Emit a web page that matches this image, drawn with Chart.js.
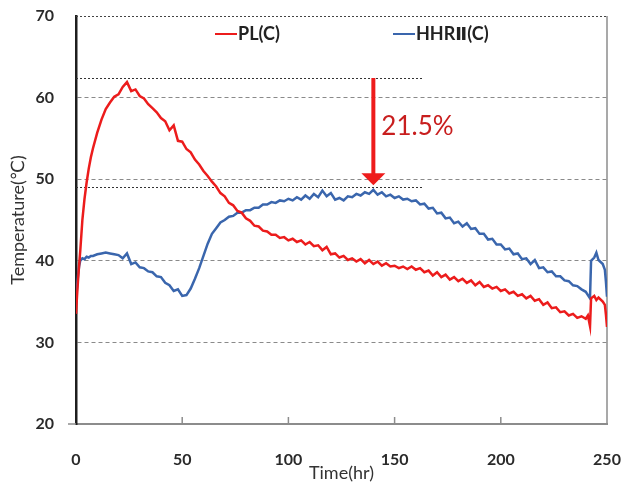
<!DOCTYPE html>
<html>
<head>
<meta charset="utf-8">
<script src="https://cdn.jsdelivr.net/npm/chart.js@4.4.1/dist/chart.umd.min.js"></script>
<style>
  html, body { margin: 0; padding: 0; background: #fff; }
  #wrap { width: 622px; height: 484px; }
</style>
</head>
<body>
<div id="wrap"><canvas id="tempChart" width="622" height="484"></canvas></div>
<script>
(function () {
    'use strict';

    // time stamps (hr)
    var hours = [
        0, 0.5, 1, 1.5, 2, 3, 4, 5, 6, 7, 8,
        10, 12, 14, 16, 18, 20, 22, 24, 26, 28, 30, 32, 34, 36, 38, 40, 42, 44, 46, 48,
        50, 52, 54, 56, 58, 60, 62, 64, 66, 68, 70, 72, 74, 76, 78, 80, 82, 84, 86, 88,
        90, 92, 94, 96, 98, 100, 102, 104, 106, 108, 110, 112, 114, 116, 118, 120, 122, 124, 126, 128,
        130, 132, 134, 136, 138, 140, 142, 144, 146, 148, 150, 152, 154, 156, 158, 160, 162, 164, 166, 168,
        170, 172, 174, 176, 178, 180, 182, 184, 186, 188, 190, 192, 194, 196, 198, 200, 202, 204, 206, 208,
        210, 212, 214, 216, 218, 220, 222, 224, 226, 228, 230, 232, 234, 236, 238, 240,
        241, 242, 242.5, 244, 245, 246, 248, 249, 249.5, 250
    ];

    // PL(C) temperature (°C)
    var plTemp = [
        33.5, 35.8, 37.8, 39.6, 41.2, 45.0, 47.6, 49.6, 51.3, 52.7, 53.8,
        55.7, 57.3, 58.6, 59.4, 60.1, 60.4, 61.3, 61.9, 60.8, 61.0, 60.2, 59.9, 59.2, 58.7, 58.2, 57.5, 57.1, 56.0, 56.6, 54.7,
        54.6, 53.7, 53.3, 52.4, 51.8, 51.0, 50.4, 49.7, 49.1, 48.3, 47.9, 47.1, 46.8, 46.1, 45.9, 45.2, 44.9, 44.3, 44.2, 43.7,
        43.6, 43.2, 43.2, 42.8, 42.9, 42.5, 42.7, 42.3, 42.5, 42.0, 42.3, 41.8, 41.9, 41.3, 41.7, 40.8, 40.9, 40.4, 40.6, 40.1,
        40.3, 39.9, 40.2, 39.7, 40.1, 39.6, 39.9, 39.4, 39.7, 39.3, 39.4, 39.1, 39.3, 39.0, 39.3, 38.9, 39.1, 38.6, 38.8, 38.2,
        38.6, 38.0, 38.3, 37.7, 38.0, 37.5, 37.8, 37.3, 37.6, 37.0, 37.4, 36.8, 37.0, 36.6, 36.8, 36.3, 36.5, 36.0, 36.2, 35.7,
        35.9, 35.4, 35.7, 35.1, 35.3, 34.6, 34.9, 34.2, 34.3, 33.7, 33.8, 33.3, 33.5, 33.0, 33.2, 32.9,
        33.3, 32.0, 35.4, 35.7, 35.2, 35.5, 35.0, 34.6, 33.4, 31.9
    ];

    // HHRⅡ(C) temperature (°C)
    var hhrTemp = [
        35.0, 36.8, 38.3, 39.4, 40.0, 40.3, 40.2, 40.5, 40.4, 40.6, 40.6,
        40.8, 40.9, 41.0, 40.9, 40.8, 40.7, 40.3, 40.9, 39.6, 39.8, 39.2, 39.1, 38.7, 38.6, 38.1, 38.0, 37.3, 37.0, 36.3, 36.5,
        35.7, 35.8, 36.6, 37.8, 39.1, 40.6, 42.1, 43.3, 44.0, 44.7, 45.0, 45.4, 45.5, 45.9, 45.9, 46.2, 46.2, 46.5, 46.5, 46.9,
        46.9, 47.2, 47.1, 47.4, 47.3, 47.6, 47.4, 47.8, 47.5, 48.0, 47.6, 48.2, 47.8, 48.6, 47.9, 48.3, 47.5, 47.7, 47.4, 47.9,
        47.8, 48.2, 48.0, 48.4, 48.2, 48.7, 48.1, 48.4, 47.9, 48.1, 47.7, 47.9, 47.5, 47.6, 47.3, 47.4, 46.9, 47.0, 46.4, 46.5,
        45.8, 45.9, 45.2, 45.3, 44.6, 44.8, 44.2, 44.6, 43.9, 44.0, 43.3, 43.3, 42.6, 42.7, 42.0, 42.0, 41.4, 41.5, 40.8, 40.9,
        40.2, 40.3, 39.6, 40.1, 39.1, 39.2, 38.6, 38.7, 38.1, 38.1, 37.6, 37.5, 37.0, 36.9, 36.5, 36.2,
        35.8, 35.4, 40.0, 40.4, 41.0, 40.1, 39.6, 38.9, 37.4, 35.6
    ];

    var xTicks = [0, 50, 100, 150, 200, 250];
    var yTicks = [20, 30, 40, 50, 60, 70];

    // peak-reduction marker
    var peakPL = 62.4;
    var peakHHR = 49.0;
    var markerHour = 140;
    var guideEndHour = 163;
    var markerText = '21.5%';

    function pairs(vals) {
        return hours.map(function (h, i) { return { x: h, y: vals[i] }; });
    }

    var FONT = 'Lato, "Open Sans", "DejaVu Sans", sans-serif';

    var decor = {
        id: 'decor',
        beforeDatasetsDraw: function (chart) {
            var ctx = chart.ctx;
            var a = chart.chartArea;
            var xs = chart.scales.x;
            var ys = chart.scales.y;
            ctx.save();
            // top border (dotted)
            ctx.strokeStyle = '#444';
            ctx.lineWidth = 1;
            ctx.setLineDash([2, 2]);
            ctx.beginPath();
            ctx.moveTo(a.left, ys.getPixelForValue(70) + 0.5);
            ctx.lineTo(a.right, ys.getPixelForValue(70) + 0.5);
            ctx.stroke();
            // guide lines for the two peaks
            ctx.strokeStyle = '#333';
            [peakPL, peakHHR].forEach(function (v) {
                var y = Math.round(ys.getPixelForValue(v)) + 0.5;
                ctx.beginPath();
                ctx.moveTo(a.left, y);
                ctx.lineTo(xs.getPixelForValue(guideEndHour), y);
                ctx.stroke();
            });
            ctx.setLineDash([]);
            // right border
            ctx.strokeStyle = '#8c8c8c';
            ctx.lineWidth = 1.5;
            ctx.beginPath();
            ctx.moveTo(a.right, a.top);
            ctx.lineTo(a.right, a.bottom);
            ctx.stroke();
            // inner tick marks on the time axis
            xTicks.forEach(function (t) {
                if (t === xTicks[0] || t === xTicks[xTicks.length - 1]) return;
                var x = xs.getPixelForValue(t);
                ctx.beginPath();
                ctx.moveTo(x, a.bottom);
                ctx.lineTo(x, a.bottom - 7);
                ctx.stroke();
            });
            // small stub of the time axis left of the y axis
            ctx.beginPath();
            ctx.moveTo(a.left - 8, a.bottom);
            ctx.lineTo(a.left, a.bottom);
            ctx.stroke();
            ctx.restore();
        },
        afterDatasetsDraw: function (chart) {
            var ctx = chart.ctx;
            var a = chart.chartArea;
            var xs = chart.scales.x;
            var ys = chart.scales.y;
            ctx.save();
            // arrow
            var ax = xs.getPixelForValue(markerHour);
            var yTop = ys.getPixelForValue(peakPL);
            var yTip = ys.getPixelForValue(peakHHR) - 2;
            ctx.strokeStyle = '#ee1c1c';
            ctx.fillStyle = '#ee1c1c';
            ctx.lineWidth = 4;
            ctx.beginPath();
            ctx.moveTo(ax, yTop);
            ctx.lineTo(ax, yTip - 10);
            ctx.stroke();
            ctx.beginPath();
            ctx.moveTo(ax - 12, yTip - 12);
            ctx.lineTo(ax + 12, yTip - 12);
            ctx.lineTo(ax, yTip);
            ctx.closePath();
            ctx.fill();
            // label
            ctx.fillStyle = '#c81e1e';
            ctx.font = '26px ' + FONT;
            ctx.textAlign = 'left';
            ctx.textBaseline = 'middle';
            ctx.fillText(markerText, ax + 8, (yTop + yTip) / 2 - 5);

            // legend
            var legendX = [215, 393];
            var ly = a.top + 18;
            ctx.font = 'bold 18px ' + FONT;
            chart.data.datasets.forEach(function (ds, i) {
                var lx = legendX[i];
                ctx.strokeStyle = ds.borderColor;
                ctx.lineWidth = 2;
                ctx.beginPath();
                ctx.moveTo(lx, ly);
                ctx.lineTo(lx + 22, ly);
                ctx.stroke();
                ctx.fillStyle = '#222';
                ctx.fillText(ds.label, lx + 23, ly);
            });
            ctx.restore();
        }
    };

    var canvas = document.getElementById('tempChart');
    var ctx = canvas.getContext('2d');

    new Chart(ctx, {
        type: 'line',
        data: {
            datasets: [
                {
                    label: 'PL(C)',
                    data: pairs(plTemp),
                    borderColor: '#ec1c1c',
                    borderWidth: 2.5,
                    pointRadius: 0,
                    tension: 0
                },
                {
                    label: 'HHRⅡ(C)',
                    data: pairs(hhrTemp),
                    borderColor: '#3a66ad',
                    borderWidth: 2.5,
                    pointRadius: 0,
                    tension: 0
                }
            ]
        },
        options: {
            responsive: false,
            animation: false,
            devicePixelRatio: 1,
            layout: { padding: { top: 16, right: 15, left: 0, bottom: 0 } },
            plugins: {
                legend: { display: false },
                tooltip: { enabled: false }
            },
            scales: {
                x: {
                    type: 'linear',
                    min: 0,
                    max: 250,
                    afterBuildTicks: function (s) {
                        s.ticks = xTicks.map(function (v) { return { value: v }; });
                    },
                    afterFit: function (s) {
                        s.height = 60;
                        s.paddingLeft = 0;
                        s.paddingRight = 0;
                    },
                    grid: { display: false, drawTicks: false },
                    border: { display: true, color: '#8c8c8c', width: 2 },
                    ticks: {
                        padding: 26,
                        color: '#2a2a2a',
                        font: { family: FONT, size: 16, weight: 'bold' },
                        maxRotation: 0
                    },
                    title: {
                        display: true,
                        text: 'Time(hr)',
                        color: '#333',
                        font: { family: FONT, size: 18 },
                        padding: { top: 0, bottom: 0 }
                    }
                },
                y: {
                    min: 20,
                    max: 70,
                    afterBuildTicks: function (s) {
                        s.ticks = yTicks.map(function (v) { return { value: v }; });
                    },
                    afterFit: function (s) {
                        s.width = 76;
                        s.paddingTop = 0;
                        s.paddingBottom = 0;
                    },
                    grid: {
                        drawTicks: false,
                        lineWidth: 1,
                        color: function (c) {
                            var v = c.tick && c.tick.value;
                            return (v === 70 || v === 20) ? 'rgba(0,0,0,0)' : '#8a8a8a';
                        }
                    },
                    border: { display: true, color: '#1e1e1e', width: 2.5, dash: [4, 3] },
                    ticks: {
                        padding: 22,
                        color: '#2a2a2a',
                        font: { family: FONT, size: 16, weight: 'bold' }
                    },
                    title: {
                        display: true,
                        text: 'Temperature(℃)',
                        color: '#333',
                        font: { family: FONT, size: 18 },
                        padding: { top: 7, bottom: 0 }
                    }
                }
            }
        },
        plugins: [decor]
    });
})();
</script>
</body>
</html>
